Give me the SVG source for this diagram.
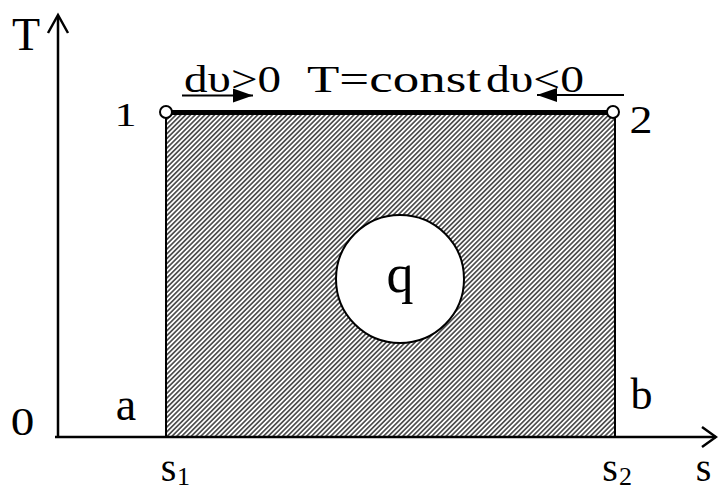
<svg xmlns="http://www.w3.org/2000/svg" width="718" height="491" viewBox="0 0 718 491">
<style>
.ax{stroke:#000;stroke-width:2.5;fill:none}
text{font-family:'Liberation Serif','Times New Roman',serif;fill:#000}
</style>
<defs>
<pattern id="hatch" patternUnits="userSpaceOnUse" width="3.4" height="3.4" patternTransform="rotate(-45)">
<rect width="3.4" height="3.4" fill="#fff"/>
<line x1="0" y1="1.7" x2="3.4" y2="1.7" stroke="#222" stroke-width="1.35"/>
</pattern>
<marker id="ah" markerWidth="20" markerHeight="14" refX="20" refY="7" orient="auto" markerUnits="userSpaceOnUse">
<path d="M0,0 L20,7 L0,14 Z" fill="#000"/>
</marker>
</defs>
<rect width="718" height="491" fill="#fff"/>
<g id="area">
<rect x="166" y="113" width="449" height="324" fill="url(#hatch)" stroke="#000" stroke-width="2"/>
</g>
<g id="connectors">
<path class="ax" d="M58,438 V16"/>
<path class="ax" d="M48,33 L58,15 L68,33"/>
<path class="ax" d="M55,437 H716"/>
<path class="ax" d="M702,427 L716,437 L702,447"/>
<line x1="166" y1="112.5" x2="614" y2="112.5" stroke="#000" stroke-width="5"/>
<line x1="182" y1="95.5" x2="253" y2="95.5" stroke="#000" stroke-width="2" marker-end="url(#ah)"/>
<line x1="624" y1="95" x2="537" y2="95" stroke="#000" stroke-width="2" marker-end="url(#ah)"/>
</g>
<g id="p1"><circle cx="166" cy="112" r="6" fill="#fff" stroke="#000" stroke-width="2"/></g>
<g id="p2"><circle cx="613" cy="112" r="6" fill="#fff" stroke="#000" stroke-width="2"/></g>
<g id="q">
<circle cx="400" cy="279" r="64" fill="#fff" stroke="#000" stroke-width="2"/>
<text x="400" y="292" font-size="54" text-anchor="middle">q</text>
</g>
<g id="labels">
<text x="26" y="50" font-size="46" text-anchor="middle">T</text>
<text transform="translate(125.5,126) scale(1.3,1)" font-size="34" text-anchor="middle">1</text>
<text transform="translate(641,133) scale(1.15,1)" font-size="40" text-anchor="middle">2</text>
<text transform="translate(22.5,435) scale(1.15,1)" font-size="41" text-anchor="middle">0</text>
<text x="126" y="420" font-size="46" text-anchor="middle">a</text>
<text x="641.5" y="409" font-size="44" text-anchor="middle">b</text>
<text x="168.5" y="481" font-size="40" text-anchor="middle">s</text>
<text x="183.5" y="485" font-size="26" text-anchor="middle">1</text>
<text x="610" y="481" font-size="40" text-anchor="middle">s</text>
<text x="625.5" y="485" font-size="26" text-anchor="middle">2</text>
<text x="703.5" y="481" font-size="40" text-anchor="middle">s</text>
<text x="184" y="92" font-size="38" textLength="97" lengthAdjust="spacingAndGlyphs">dυ&gt;0</text>
<text x="307" y="92" font-size="38" textLength="174" lengthAdjust="spacingAndGlyphs">T=const</text>
<text x="486" y="92" font-size="38" textLength="98" lengthAdjust="spacingAndGlyphs">dυ&lt;0</text>
</g>
</svg>
